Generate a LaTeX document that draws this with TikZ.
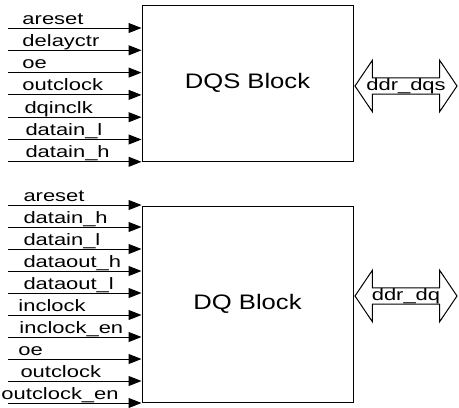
\documentclass[tikz,border=0pt]{standalone}
\usepackage{fontspec}
\usetikzlibrary{arrows.meta,shapes.arrows}
\newfontfamily\sigfont[FakeStretch=1.33]{Liberation Sans}
\newfontfamily\blkfont[FakeStretch=1.22]{Liberation Sans}

\begin{document}
\begin{tikzpicture}[x=1pt,y=-1pt,line width=1pt,
	block/.style={draw,minimum width=211pt,inner sep=0pt,font=\blkfont\fontsize{21}{22}\selectfont},
	sig/.style={anchor=base west,inner sep=0pt,font=\sigfont\fontsize{16.5}{17}\selectfont},
	inarrow/.style={-{Triangle[length=13pt,width=10pt]}},
	bus/.style={draw,double arrow,double arrow tip angle=112,double arrow head extend=17.5pt,
		minimum height=102pt,minimum width=22pt,inner sep=0pt,font=\sigfont\fontsize{16.5}{17}\selectfont}]
	\useasboundingbox (0,0) rectangle (459,408);
	\node[block,minimum height=156pt] (dqs) at (247.5,83) {DQS Block};
	\node[block,minimum height=196pt] (dq) at (247.5,304) {DQ Block};
	\node[bus] (ddrdqs) at (406,86) {ddr\_dqs};
	\node[bus] (ddrdq) at (406,296) {ddr\_dq};
	\foreach \lbl/\lx [count=\i] in {areset/22,delayctr/22,oe/22,outclock/22,dqinclk/24,datain\_l/25,datain\_h/25} {
		\pgfmathsetmacro{\ly}{28+22.3*(\i-1)};
		\coordinate (qs\i) at (8,\ly);
		\node[sig] (qslbl\i) at (\lx,\ly-4) {\lbl};
		\draw[inarrow] (qs\i) -- (dqs.west |- qs\i);
	}
	\foreach \lbl/\lx [count=\i] in {areset/23,datain\_h/23,datain\_l/23,dataout\_h/23,dataout\_l/23,
		inclock/18,inclock\_en/19,oe/18,outclock/20,outclock\_en/1} {
		\pgfmathsetmacro{\ly}{205+22*(\i-1)};
		\coordinate (q\i) at (8,\ly);
		\node[sig] (qlbl\i) at (\lx,\ly-4) {\lbl};
		\draw[inarrow] (q\i) -- (dq.west |- q\i);
	}
\end{tikzpicture}
\end{document}
